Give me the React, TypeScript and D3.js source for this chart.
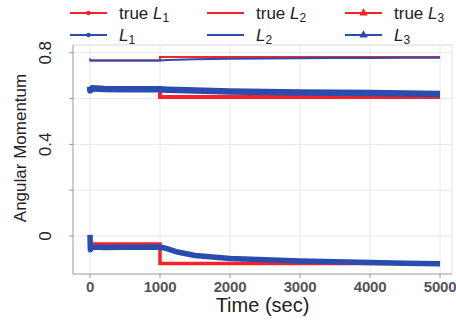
import React from "react";
import * as d3 from "d3";

// times for the "true" step values
const trueTime = [0, 1000, 5000];
const trueL1 = [-0.035, -0.12, -0.12];
const trueL2 = [0.766, 0.782, 0.782];
const trueL3 = [0.64, 0.607, 0.607];

// times for the estimated series
const estTime = [0, 5, 30, 200, 500, 1000, 1100, 1250, 1500, 2000, 2500, 3000, 3500, 4000, 4500, 5000];
const estL1 = [0.005, -0.06, -0.048, -0.05, -0.049, -0.048, -0.055, -0.07, -0.085, -0.098, -0.104, -0.109, -0.113, -0.116, -0.119, -0.121];
const estL2 = [0.775, 0.766, 0.766, 0.766, 0.766, 0.766, 0.768, 0.77, 0.772, 0.774, 0.775, 0.776, 0.777, 0.777, 0.778, 0.778];
const estL3 = [0.652, 0.636, 0.645, 0.642, 0.641, 0.641, 0.639, 0.637, 0.635, 0.631, 0.629, 0.627, 0.625, 0.624, 0.622, 0.62];

const xTicks = [0, 1000, 2000, 3000, 4000, 5000];
const yGrid = [0, 0.2, 0.4, 0.6, 0.8];
const yLabels = [0, 0.4, 0.8];

const RED = "#f5222a";
const BLUE = "#2a4cac";
const FONT = "Liberation Sans, Arial, sans-serif";

export default function App() {
  const width = 456;
  const height = 322;
  const margin = { top: 45, right: 4, bottom: 48, left: 73 };

  const x = d3.scaleLinear().domain([-243, 5171]).range([margin.left, width - margin.right]);
  const y = d3.scaleLinear().domain([-0.166, 0.834]).range([height - margin.bottom, margin.top]);

  const stepLine = d3
    .line<number>()
    .x((_, i) => x(trueTime[i]))
    .y((d) => y(d))
    .curve(d3.curveStepAfter);
  const estLine = d3
    .line<number>()
    .x((_, i) => x(estTime[i]))
    .y((d) => y(d));

  const x0 = margin.left;
  const x1 = width - margin.right;
  const y0 = height - margin.bottom;
  const y1 = margin.top;

  const legend = [
    { label: "true ", sub: "1", color: RED, marker: "dot", col: 0, row: 0 },
    { label: "", sub: "1", color: BLUE, marker: "dot", col: 0, row: 1 },
    { label: "true ", sub: "2", color: RED, marker: "none", col: 1, row: 0 },
    { label: "", sub: "2", color: BLUE, marker: "none", col: 1, row: 1 },
    { label: "true ", sub: "3", color: RED, marker: "tri", col: 2, row: 0 },
    { label: "", sub: "3", color: BLUE, marker: "tri", col: 2, row: 1 },
  ];
  const colX = [70, 207, 345];
  const rowY = [13, 35];

  return (
    <svg width={width} height={height} style={{ position: "absolute", left: 0, top: 0, background: "#fff" }}>
      {/* grid */}
      <g stroke="#e4e8ee" strokeWidth={1}>
        {xTicks.map((t) => (
          <line key={"gx" + t} x1={x(t)} x2={x(t)} y1={y1} y2={y0} />
        ))}
        {yGrid.map((t) => (
          <line key={"gy" + t} x1={x0} x2={x1} y1={y(t)} y2={y(t)} />
        ))}
      </g>
      {/* spines */}
      <line x1={x0} x2={x1} y1={y1} y2={y1} stroke="#d8d8d8" />
      <line x1={x1} x2={x1} y1={y1} y2={y0} stroke="#e2e2e2" />
      <line x1={x0} x2={x0} y1={y1} y2={y0} stroke="#999" />
      <line x1={x0} x2={x1} y1={y0} y2={y0} stroke="#999" />
      {/* ticks */}
      <g stroke="#999">
        {xTicks.map((t) => (
          <line key={"tx" + t} x1={x(t)} x2={x(t)} y1={y0} y2={y0 + 4} />
        ))}
        {yGrid.map((t) => (
          <line key={"ty" + t} x1={x0 - 4} x2={x0} y1={y(t)} y2={y(t)} />
        ))}
      </g>

      {/* series, drawn in legend order */}
      <path d={stepLine(trueL1) || ""} fill="none" stroke={RED} strokeWidth={3.5} />
      <path d={estLine(estL1) || ""} fill="none" stroke={BLUE} strokeWidth={5.5} strokeLinejoin="round" />
      <path d={stepLine(trueL2) || ""} fill="none" stroke={RED} strokeWidth={2} />
      <path d={estLine(estL2) || ""} fill="none" stroke={BLUE} strokeWidth={2} />
      <path d={stepLine(trueL3) || ""} fill="none" stroke={RED} strokeWidth={4} />
      <path d={estLine(estL3) || ""} fill="none" stroke={BLUE} strokeWidth={6.5} strokeLinejoin="round" />

      {/* x tick labels */}
      <g fontFamily={FONT} fontSize={15} fontWeight="bold" fill="#555" textAnchor="middle" letterSpacing={-0.2}>
        {xTicks.map((t) => (
          <text key={"lx" + t} x={x(t)} y={y0 + 18}>
            {t}
          </text>
        ))}
      </g>
      {/* y tick labels */}
      <g fontFamily={FONT} fontSize={17} fill="#222" textAnchor="middle">
        {yLabels.map((t) => (
          <text key={"ly" + t} transform={`translate(${x0 - 28},${y(t)}) rotate(-90)`} dy="0.35em">
            {t}
          </text>
        ))}
      </g>
      {/* axis titles */}
      <text x={(x0 + x1) / 2} y={312} fontFamily={FONT} fontSize={20} fill="#222" textAnchor="middle">
        Time (sec)
      </text>
      <text
        transform={`translate(26,148) rotate(-90)`}
        fontFamily={FONT}
        fontSize={17}
        fill="#222"
        textAnchor="middle"
      >
        Angular Momentum
      </text>

      {/* legend */}
      <g fontFamily={FONT} fontSize={17} fill="#222">
        {legend.map((d, i) => {
          const lx = colX[d.col];
          const ly = rowY[d.row];
          const cx = lx + 18.5;
          return (
            <g key={"lg" + i}>
              <line x1={lx} x2={lx + 37} y1={ly} y2={ly} stroke={d.color} strokeWidth={2} />
              {d.marker === "dot" && <circle cx={cx} cy={ly} r={2.2} fill={d.color} />}
              {d.marker === "tri" && (
                <path d={d3.symbol(d3.symbolTriangle, 30)() || ""} transform={`translate(${cx},${ly})`} fill={d.color} />
              )}
              <text x={lx + 49} y={ly} dy="0.35em">
                {d.label}
                <tspan fontStyle="italic">L</tspan>
                <tspan fontSize={12} dy="3">
                  {d.sub}
                </tspan>
              </text>
            </g>
          );
        })}
      </g>
    </svg>
  );
}
